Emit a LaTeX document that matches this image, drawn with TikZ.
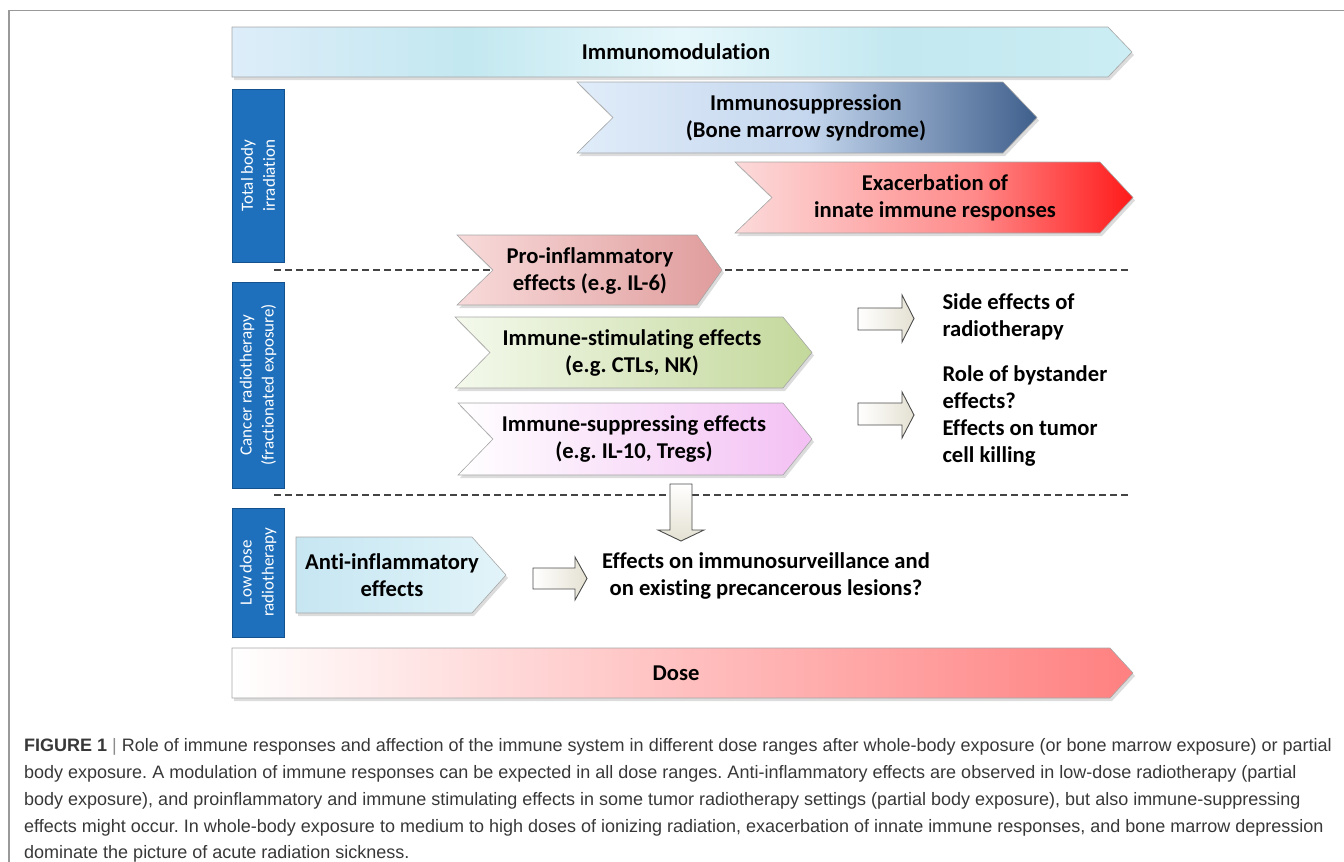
\documentclass[tikz,border=0pt]{standalone}
\usepackage{fontspec}
\setmainfont{Carlito}[Ligatures={NoCommon,NoContextual}]
\newfontfamily\capfont{Liberation Sans}
\usetikzlibrary{calc}

\definecolor{imA}{HTML}{DDEDF9}
\definecolor{imB}{HTML}{C3E8F0}
\definecolor{imC}{HTML}{E6F7FB}
\definecolor{imD}{HTML}{CBEDF3}
\definecolor{suA}{HTML}{E0ECF9}
\definecolor{suB}{HTML}{C5D7EE}
\definecolor{suC}{HTML}{3F5F8C}
\definecolor{exA}{HTML}{FCDADA}
\definecolor{exB}{HTML}{FF8A8A}
\definecolor{exC}{HTML}{FF1A1A}
\definecolor{prA}{HTML}{F8DADA}
\definecolor{prB}{HTML}{E09C9C}
\definecolor{stA}{HTML}{F4F9EC}
\definecolor{stB}{HTML}{C3D89B}
\definecolor{spA}{HTML}{FFFFFF}
\definecolor{spB}{HTML}{F3C0F3}
\definecolor{anA}{HTML}{C6E6F2}
\definecolor{anB}{HTML}{E2F4F9}
\definecolor{doA}{HTML}{FFFFFF}
\definecolor{doB}{HTML}{FF8080}
\definecolor{sideblue}{HTML}{1F70BC}
\definecolor{sideedge}{HTML}{13518F}
\definecolor{captxt}{HTML}{383838}
\definecolor{dashc}{HTML}{444444}
\definecolor{blkA}{HTML}{FFFFFF}
\definecolor{blkB}{HTML}{E4E1D2}

\pgfdeclarehorizontalshading{shImmod}{100bp}{color(0bp)=(imA); color(25bp)=(imA); color(38bp)=(imB); color(50bp)=(imC); color(62bp)=(imB); color(75bp)=(imD); color(100bp)=(imD)}
\pgfdeclarehorizontalshading{shSupp}{100bp}{color(0bp)=(suA); color(25bp)=(suA); color(50bp)=(suB); color(75bp)=(suC); color(100bp)=(suC)}
\pgfdeclarehorizontalshading{shExac}{100bp}{color(0bp)=(exA); color(25bp)=(exA); color(55bp)=(exB); color(75bp)=(exC); color(100bp)=(exC)}

\tikzset{
  lbl/.style={font=\bfseries\fontsize{22.6}{27}\selectfont, align=center, text=black},
  sidelbl/.style={rotate=90, font=\fontsize{17}{22}\selectfont, align=center, text=white,
     fill=sideblue, draw=sideedge, line width=1pt, inner sep=0pt},
  shadowed/.style={fill=black!30, opacity=0.45},
  edge/.style={draw=black!35, line width=0.6pt},
  blockarrow/.style={draw=black!70, line width=0.9pt, left color=blkA, right color=blkB},
  sep/.style={draw=dashc, line width=1.6pt, dash pattern=on 7pt off 4pt},
  captionline/.style={font=\capfont\fontsize{18}{22}\selectfont, text=captxt, anchor=base west, inner sep=0pt},
}

\newcommand\chevpath[7]{(#1,#5) -- (#2,#5) -- (#3,#7) -- (#2,#6) -- (#1,#6) -- (#4,#7) -- cycle}

\begin{document}
\frenchspacing
\begin{tikzpicture}[x=1pt,y=-1pt]
\useasboundingbox (0,0) rectangle (1344,862);
% frame
\draw[black!40, line width=1.5pt] (9,862) -- (9,10.5) -- (1344,10.5);

% Immunomodulation
\fill[shadowed, shift={(2,3)}] \chevpath{232}{1108}{1132}{232}{27}{77}{52};
\shade[shading=shImmod] \chevpath{232}{1108}{1132}{232}{27}{77}{52};
\draw[edge] \chevpath{232}{1108}{1132}{232}{27}{77}{52};
\node[lbl] (immod) at (676,52) {Immunomodulation};

% side boxes
\node[sidelbl, minimum width=173pt, minimum height=52pt] (tbi) at (258,175.5) {Total body\\irradiation};
\node[sidelbl, minimum width=206pt, minimum height=52pt] (crt) at (258,385) {Cancer radiotherapy\\(fractionated exposure)};
\node[sidelbl, minimum width=129pt, minimum height=52pt] (ldr) at (258,572.5) {Low dose\\radiotherapy};

% dashed separators
\coordinate (s1a) at (274,270); \coordinate (s1b) at (1130,270);
\coordinate (s2a) at (274,495); \coordinate (s2b) at (1130,495);
\draw[sep] (s1a) -- (s1b);
\draw[sep] (s2a) -- (s2b);

% Immunosuppression
\fill[shadowed, shift={(2,3)}] \chevpath{577}{1003}{1037}{613}{82}{153}{117.5};
\shade[shading=shSupp] \chevpath{577}{1003}{1037}{613}{82}{153}{117.5};
\draw[edge] \chevpath{577}{1003}{1037}{613}{82}{153}{117.5};
\node[lbl] (supp) at (806,117.5) {Immunosuppression\\(Bone marrow syndrome)};

% Exacerbation
\fill[shadowed, shift={(2,3)}] \chevpath{735}{1100}{1133}{772}{162}{233}{197.5};
\shade[shading=shExac] \chevpath{735}{1100}{1133}{772}{162}{233}{197.5};
\draw[edge] \chevpath{735}{1100}{1133}{772}{162}{233}{197.5};
\node[lbl] (exac) at (935,198) {Exacerbation of\\innate immune responses};

% Pro-inflammatory
\fill[shadowed, shift={(2,3)}] \chevpath{457}{697}{722}{493}{235}{305}{270};
\shade[left color=prA, right color=prB] \chevpath{457}{697}{722}{493}{235}{305}{270};
\draw[edge] \chevpath{457}{697}{722}{493}{235}{305}{270};
\node[lbl] (proinf) at (590,271) {Pro-inflammatory\\effects (e.g. IL-6)};

% Immune-stimulating
\fill[shadowed, shift={(2,3)}] \chevpath{455}{783}{812}{490}{317}{388}{352.5};
\shade[left color=stA, right color=stB] \chevpath{455}{783}{812}{490}{317}{388}{352.5};
\draw[edge] \chevpath{455}{783}{812}{490}{317}{388}{352.5};
\node[lbl] (stim) at (632,353) {Immune-stimulating effects\\(e.g. CTLs, NK)};

% Immune-suppressing
\fill[shadowed, shift={(2,3)}] \chevpath{458}{783}{812}{493}{403}{475}{439};
\shade[left color=spA, right color=spB] \chevpath{458}{783}{812}{493}{403}{475}{439};
\draw[edge] \chevpath{458}{783}{812}{493}{403}{475}{439};
\node[lbl] (suppr) at (634,439) {Immune-suppressing effects\\(e.g. IL-10, Tregs)};

% Anti-inflammatory
\fill[shadowed, shift={(2,3)}] \chevpath{296}{472}{506}{296}{537}{613}{575};
\shade[left color=anA, right color=anB] \chevpath{296}{472}{506}{296}{537}{613}{575};
\draw[edge] \chevpath{296}{472}{506}{296}{537}{613}{575};
\node[lbl] (antinf) at (392,575) {Anti-inflammatory\\effects};

% right side texts
\node[lbl, align=left, anchor=west] (side) at (939,317) {Side effects of\\radiotherapy};
\node[lbl, align=left, anchor=west] (byst) at (939,416) {Role of bystander\\effects?\\Effects on tumor\\cell killing};
\node[lbl] (surv) at (766,576) {Effects on immunosurveillance and\\on existing precancerous lesions?};

% block arrows
\path[blockarrow] (858,308) -- (902,308) -- (902,295) -- (914,318.5) -- (902,342) -- (902,330) -- (858,330) -- cycle;
\path[blockarrow] (858,403) -- (902,403) -- (902,392) -- (914,415) -- (902,438) -- (902,425) -- (858,425) -- cycle;
\path[blockarrow] (533,568) -- (575,568) -- (575,557) -- (587,578.5) -- (575,600) -- (575,589) -- (533,589) -- cycle;
\path[blockarrow, top color=blkA, bottom color=blkB] (670,484) -- (692,484) -- (692,530) -- (704,530) -- (681,541) -- (658,530) -- (670,530) -- cycle;

% Dose
\fill[shadowed, shift={(2,3)}] \chevpath{232}{1110}{1133}{232}{648}{698}{673};
\shade[left color=doA, right color=doB] \chevpath{232}{1110}{1133}{232}{648}{698}{673};
\draw[edge] \chevpath{232}{1110}{1133}{232}{648}{698}{673};
\node[lbl] (dose) at (676,673) {Dose};

% caption
\node[captionline] (c1) at (24,751) {{\bfseries FIGURE 1} {\color{black!45}|} Role of immune responses and affection of the immune system in different dose ranges after whole-body exposure (or bone marrow exposure) or partial};
\node[captionline] (c2) at (24,778) {body exposure. A modulation of immune responses can be expected in all dose ranges. Anti-inflammatory effects are observed in low-dose radiotherapy (partial};
\node[captionline] (c3) at (24,805) {body exposure), and proinflammatory and immune stimulating effects in some tumor radiotherapy settings (partial body exposure), but also immune-suppressing};
\node[captionline] (c4) at (24,832) {effects might occur. In whole-body exposure to medium to high doses of ionizing radiation, exacerbation of innate immune responses, and bone marrow depression};
\node[captionline] (c5) at (24,858) {dominate the picture of acute radiation sickness.};
\end{tikzpicture}
\end{document}
